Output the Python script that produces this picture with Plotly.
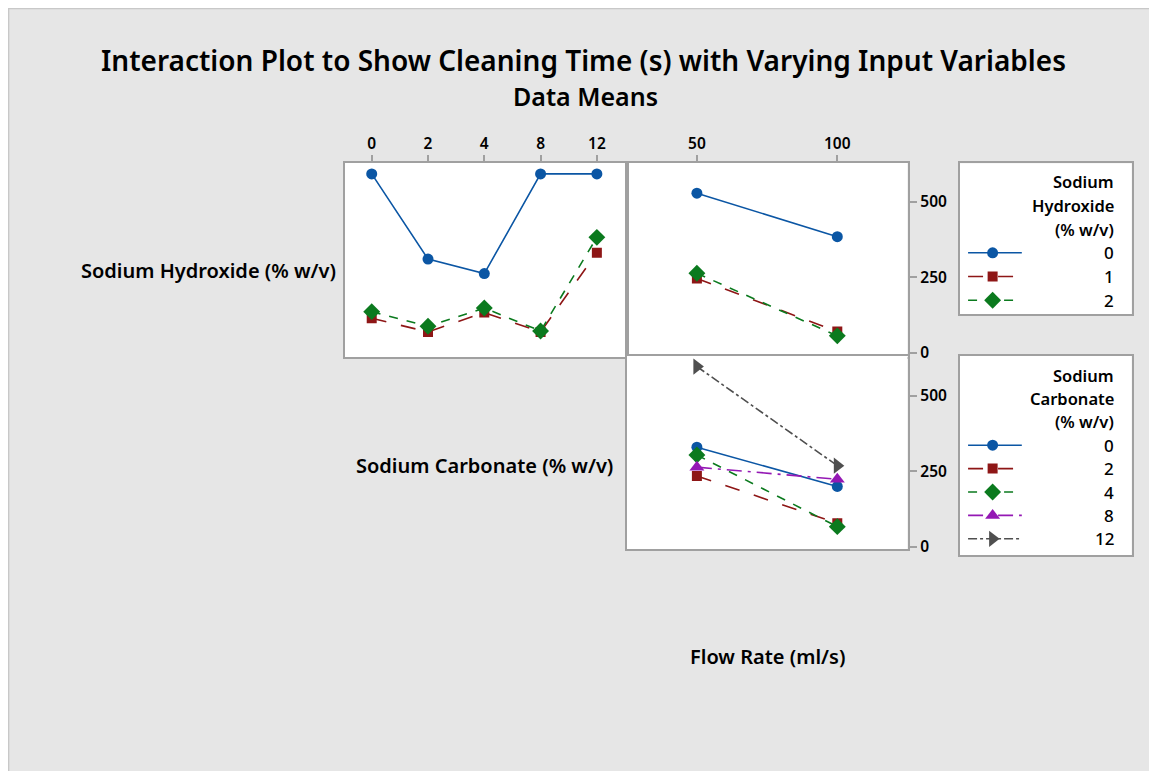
import plotly.graph_objects as go

# ---------------- data ----------------
naoh_levels = ["0", "1", "2"]
naco3_levels = ["0", "2", "4", "8", "12"]
flow_rates = [50, 100]

# top-left: x = sodium carbonate level, traces = sodium hydroxide level
tl_values = {
    "0": [592, 310, 262, 592, 592],
    "1": [114, 69, 133, 69, 331],
    "2": [136, 88, 148, 72, 382],
}
# top-right: x = flow rate, traces = sodium hydroxide level
tr_values = {
    "0": [528, 384],
    "1": [246, 70],
    "2": [263, 56],
}
# bottom-right: x = flow rate, traces = sodium carbonate level
br_values = {
    "0": [329, 199],
    "2": [234, 77],
    "4": [303, 66],
    "8": [263, 223],
    "12": [596, 268],
}

y_ticks = [0, 250, 500]

# ---------------- styles ----------------
BLUE = "#0B56A4"
RED = "#8E1616"
GREEN = "#0B7A1E"
PURPLE = "#9418B4"
GRAY = "#4F4F4F"

naoh_style = {
    "0": dict(color=BLUE, dash="solid", symbol="circle", size=11),
    "1": dict(color=RED, dash="longdash", symbol="square", size=10),
    "2": dict(color=GREEN, dash="dash", symbol="diamond", size=13),
}
naco3_style = {
    "0": dict(color=BLUE, dash="solid", symbol="circle", size=11),
    "2": dict(color=RED, dash="longdash", symbol="square", size=10),
    "4": dict(color=GREEN, dash="dash", symbol="diamond", size=13),
    "8": dict(color=PURPLE, dash="longdashdot", symbol="triangle-up", size=13),
    "12": dict(color=GRAY, dash="dashdot", symbol="triangle-right", size=14),
}

W, H = 1157, 771
H_EFF = 763  # visible plot height in the page
OFF = 8  # page body margin
FONT = "Noto Sans"


def px(x):
    return (x - OFF) / W


def py(y):
    return 1 - (y - OFF) / H_EFF


fig = go.Figure()


def add_series(x, y, st, xa, ya):
    fig.add_trace(go.Scatter(
        x=x, y=y, mode="lines+markers", xaxis=xa, yaxis=ya, showlegend=False,
        line=dict(color=st["color"], dash=st["dash"], width=1.6),
        marker=dict(symbol=st["symbol"], size=st["size"], color=st["color"],
                    opacity=1, line=dict(width=0)),
        hoverinfo="x+y",
    ))


for lvl in naoh_levels:
    add_series(naco3_levels, tl_values[lvl], naoh_style[lvl], "x", "y")
for lvl in naoh_levels:
    add_series(flow_rates, tr_values[lvl], naoh_style[lvl], "x2", "y2")
for lvl in naco3_levels:
    add_series(flow_rates, br_values[lvl], naco3_style[lvl], "x3", "y3")

# ---------------- custom legends ----------------
def add_legend(xa, ya, title_lines, levels, styles, first, step):
    for k, line in enumerate(title_lines):
        fig.add_annotation(x=0.907, y=first + step * k, xref=xa, yref=ya,
                           text=line, showarrow=False, xanchor="right",
                           font=dict(family=FONT, size=16.5, color="black", weight=600))
    for j, lvl in enumerate(levels):
        k = len(title_lines) + j
        yy = first + step * k
        st = styles[lvl]
        fig.add_trace(go.Scatter(
            x=[0.047, 0.19, 0.36], y=[yy, yy, yy], mode="lines+markers",
            xaxis=xa, yaxis=ya, showlegend=False, hoverinfo="skip",
            line=dict(color=st["color"], dash=st["dash"], width=1.6),
            marker=dict(symbol=st["symbol"], size=[0, st["size"], 0],
                        color=st["color"], opacity=1, line=dict(width=0)),
        ))
        fig.add_annotation(x=0.907, y=yy, xref=xa, yref=ya, text=lvl,
                           showarrow=False, xanchor="right",
                           font=dict(family=FONT, size=17, color="black", weight=500))


add_legend("x4", "y4", ["Sodium", "Hydroxide", "(% w/v)"], naoh_levels,
           naoh_style, 18.4, 23.7)
add_legend("x5", "y5", ["Sodium", "Carbonate", "(% w/v)"], naco3_levels,
           naco3_style, 19.0, 23.4)

# ---------------- layout ----------------
frame = dict(showline=True, linecolor="#A0A0A0", linewidth=1.5, mirror=True,
             showgrid=False, zeroline=False)
tickfont = dict(family=FONT, size=15.5, color="black", weight=600)

x_tl = (px(344.7), px(626.7))
x_r = (px(626.7), px(907.5))
y_top = (py(357), py(162.7))
y_bot = (py(549.3), py(356))

fig.update_layout(
    width=W, height=H,
    margin=dict(l=0, r=0, t=0, b=0),
    paper_bgcolor="#E6E6E6", plot_bgcolor="white",
    font=dict(family=FONT, color="black"),
    xaxis=dict(domain=x_tl, anchor="y", type="category",
               categoryorder="array", categoryarray=naco3_levels,
               range=[-0.48, 4.53], side="top", ticks="outside", ticklen=6,
               tickcolor="#A0A0A0", tickwidth=1.5, tickfont=tickfont, **frame),
    yaxis=dict(domain=y_top, anchor="x", range=[-14, 629], showticklabels=False,
               ticks="", **frame),
    xaxis2=dict(domain=x_r, anchor="y2", range=[25, 125], side="top",
                tickvals=flow_rates, ticks="outside", ticklen=6,
                tickcolor="#A0A0A0", tickwidth=1.5, tickfont=tickfont, **frame),
    yaxis2=dict(domain=y_top, anchor="x2", range=[-14, 629], side="right",
                tickvals=y_ticks, ticks="outside", ticklen=8,
                tickcolor="#A0A0A0", tickwidth=1.5, tickfont=tickfont, **frame),
    xaxis3=dict(domain=x_r, anchor="y3", range=[25, 125],
                showticklabels=False, ticks="", **frame),
    yaxis3=dict(domain=y_bot, anchor="x3", range=[-9, 631], side="right",
                tickvals=y_ticks, ticks="outside", ticklen=8,
                tickcolor="#A0A0A0", tickwidth=1.5, tickfont=tickfont, **frame),
    xaxis4=dict(domain=(px(960), px(1131.7)), anchor="y4", range=[0, 1],
                showticklabels=False, ticks="", fixedrange=True, **frame),
    yaxis4=dict(domain=(py(314.3), py(163.3)), anchor="x4", range=[151, 0],
                showticklabels=False, ticks="", fixedrange=True, **frame),
    xaxis5=dict(domain=(px(960), px(1131.7)), anchor="y5", range=[0, 1],
                showticklabels=False, ticks="", fixedrange=True, **frame),
    yaxis5=dict(domain=(py(555), py(356)), anchor="x5", range=[199, 0],
                showticklabels=False, ticks="", fixedrange=True, **frame),
    shapes=[dict(type="rect", xref="paper", yref="paper",
                 x0=0.0005, x1=1.01, y0=-0.01, y1=0.9993,
                 fillcolor="rgba(0,0,0,0)", line=dict(color="#C8C8C8", width=1.5),
                 layer="below")],
)

labels = [
    ("Interaction Plot to Show Cleaning Time (s) with Varying Input Variables",
     583, 60, "center", 28, 600),
    ("Data Means", 585, 96, "center", 25, 600),
    ("Sodium Hydroxide (% w/v)", 338, 270, "right", 20, 600),
    ("Sodium Carbonate (% w/v)", 615, 465, "right", 20, 600),
    ("Flow Rate (ml/s)", 767, 656, "center", 20, 600),
]
for text, x, y, anchor, size, weight in labels:
    fig.add_annotation(x=px(x), y=py(y), xref="paper", yref="paper", text=text,
                       showarrow=False, xanchor=anchor, yanchor="middle",
                       font=dict(family=FONT, size=size, color="black", weight=weight))

fig.write_html("out.html")
